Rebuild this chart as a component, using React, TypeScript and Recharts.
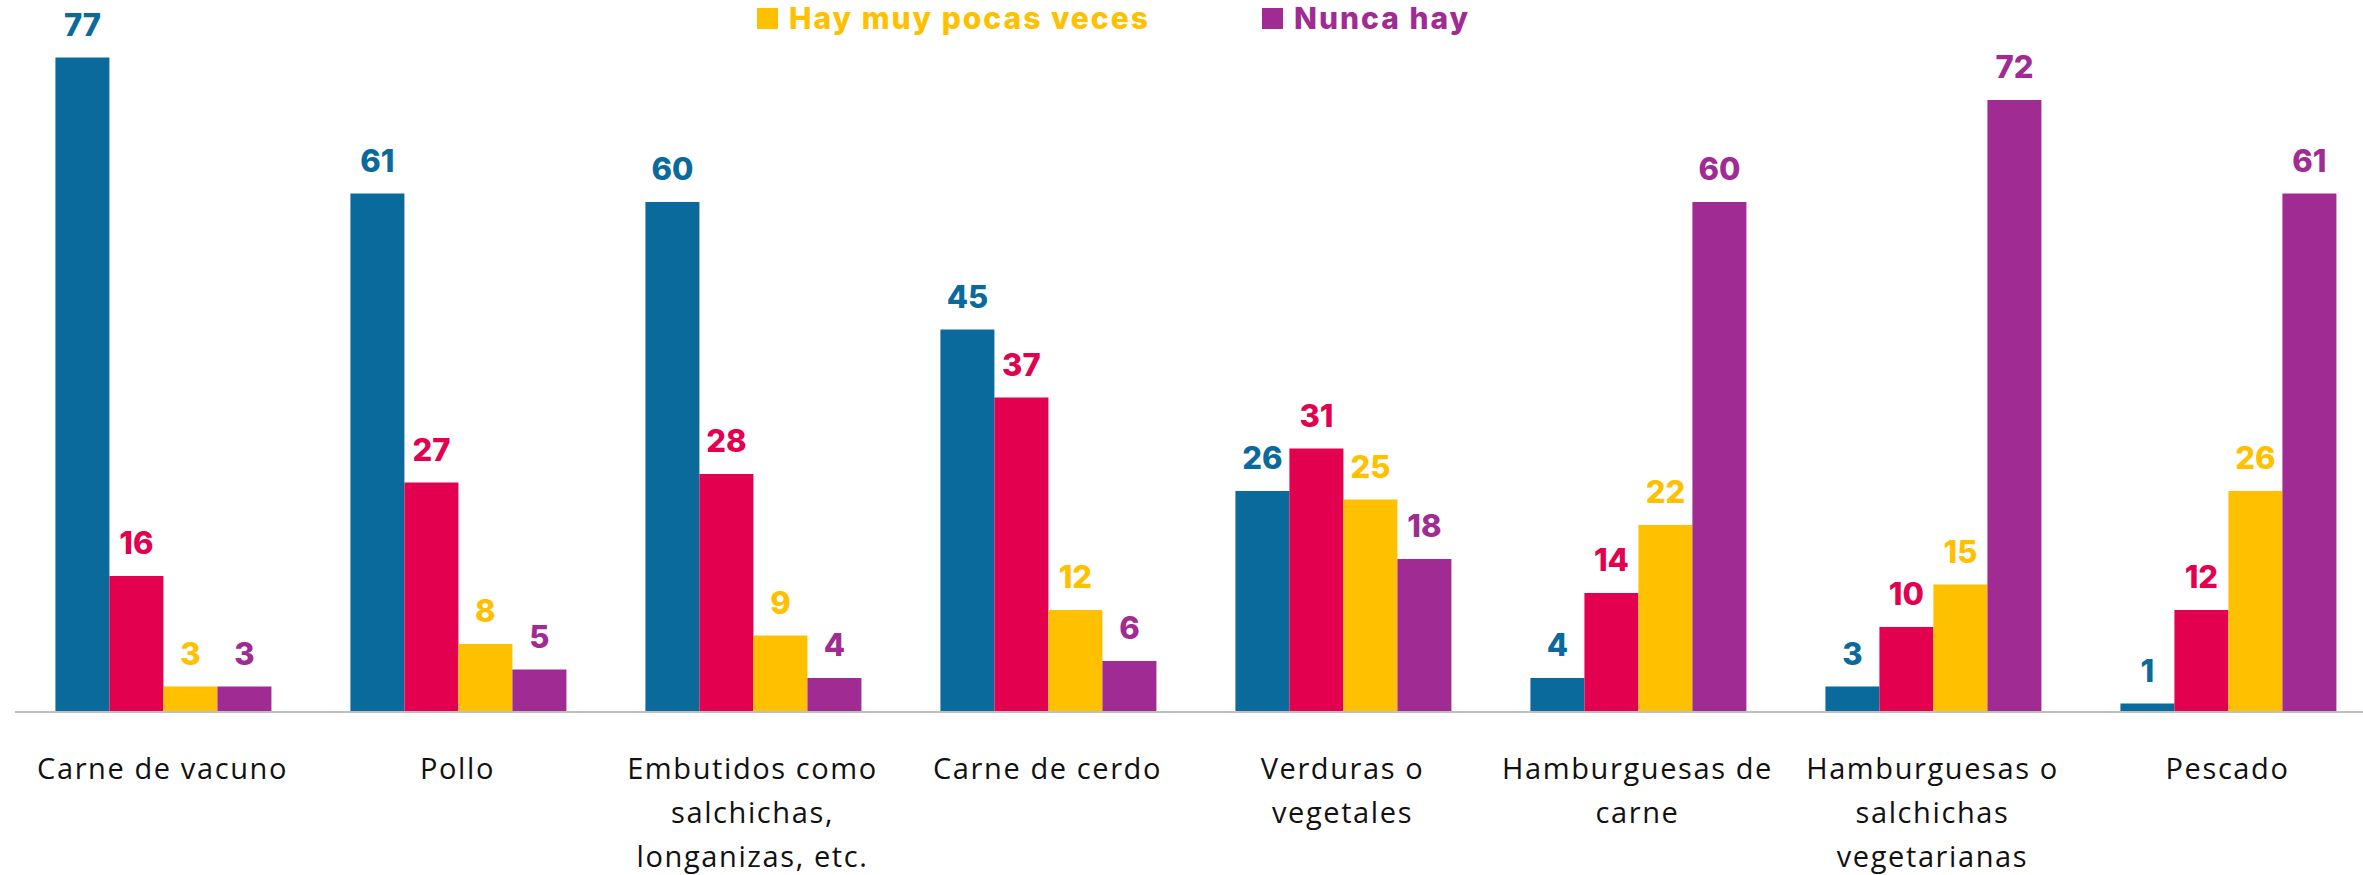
import React from 'react'
import { BarChart, Bar, XAxis, YAxis, LabelList, Legend } from 'recharts'

// categories (line breaks as in the original chart)
const categories = [
  'Carne de vacuno',
  'Pollo',
  'Embutidos como\nsalchichas,\nlonganizas, etc.',
  'Carne de cerdo',
  'Verduras o\nvegetales',
  'Hamburguesas de\ncarne',
  'Hamburguesas o\nsalchichas\nvegetarianas',
  'Pescado',
]

const seriesNames = ['Siempre hay', 'Casi siempre hay', 'Hay muy pocas veces', 'Nunca hay']
const siempre = [77, 61, 60, 45, 26, 4, 3, 1]
const casiSiempre = [16, 27, 28, 37, 31, 14, 10, 12]
const pocasVeces = [3, 8, 9, 12, 25, 22, 15, 26]
const nunca = [3, 5, 4, 6, 18, 60, 72, 61]
const boundaryTicks = [0, 1, 2, 3, 4, 5, 6, 7, 8]

const colors = ['#0B6A9C', '#E3004F', '#FFC000', '#A02B93']

const data = categories.map((name, i) => ({
  name,
  s0: siempre[i],
  s1: casiSiempre[i],
  s2: pocasVeces[i],
  s3: nunca[i],
}))

const labelFont = 'Inter, "Noto Sans", sans-serif'
const tickFont = '"Open Sans", "Noto Sans", sans-serif'

const CategoryTick = (props: any) => {
  const { x, y, payload } = props
  const lines = String(payload.value).split('\n')
  return (
    <g transform={`translate(${x},${y})`}>
      <text textAnchor='middle' fill='#111' fontFamily={tickFont} fontSize={29} letterSpacing={1.6}>
        {lines.map((line, i) => (
          <tspan key={i} x={0} dy={i === 0 ? 66 : 44}>
            {line}
          </tspan>
        ))}
      </text>
    </g>
  )
}

const LegendContent = (props: any) => {
  const items = (props.payload || []).filter((p: any) => p.type !== 'none')
  return (
    <div style={{ display: 'flex', alignItems: 'center', fontFamily: labelFont }}>
      {items.map((p: any) => (
        <div
          key={p.value}
          style={{ display: 'flex', alignItems: 'center', marginRight: 112, color: p.color }}
        >
          <span style={{ width: 21, height: 21, background: p.color, display: 'inline-block', marginRight: 11 }} />
          <span style={{ fontSize: 30, fontWeight: 800, lineHeight: '36px', letterSpacing: 2 }}>{p.value}</span>
        </div>
      ))}
    </div>
  )
}

const App: React.FC = () => {
  const keys = ['s0', 's1', 's2', 's3']
  return (
    <div
      style={{
        position: 'absolute',
        left: 0,
        top: 0,
        width: 2363,
        height: 875,
        overflow: 'hidden',
        background: '#fff',
      }}
    >
      <BarChart
        width={2380}
        height={875}
        data={data}
        margin={{ top: 32, right: 5, bottom: 12, left: 15 }}
        barCategoryGap='13.7%'
        barGap={0}
      >
        <XAxis
          xAxisId='b'
          dataKey='name'
          axisLine={false}
          tickLine={false}
          tickSize={0}
          tickMargin={0}
          height={150}
          interval={0}
          tick={<CategoryTick />}
        />
        <XAxis
          xAxisId='a'
          type='number'
          domain={[0, 8]}
          ticks={boundaryTicks}
          tick={false}
          tickSize={11}
          height={1}
          stroke='#BFBFBF'
          strokeWidth={2}
          allowDataOverflow
        />
        <YAxis hide domain={[0, 80]} />
        <Legend
          verticalAlign='middle'
          align='center'
          layout='horizontal'
          content={<LegendContent />}
          wrapperStyle={{ top: 0, left: 757, width: 1000, height: 36 }}
        />
        {keys.map((k, i) => (
          <Bar
            key={k}
            xAxisId='b'
            dataKey={k}
            name={seriesNames[i]}
            fill={colors[i]}
            legendType={i < 2 ? 'none' : 'square'}
            isAnimationActive={false}
          >
            <LabelList
              dataKey={k}
              position='top'
              offset={22}
              fill={colors[i]}
              fontFamily={labelFont}
              fontSize={31}
              fontWeight={800}
            />
          </Bar>
        ))}
      </BarChart>
    </div>
  )
}

export default App
